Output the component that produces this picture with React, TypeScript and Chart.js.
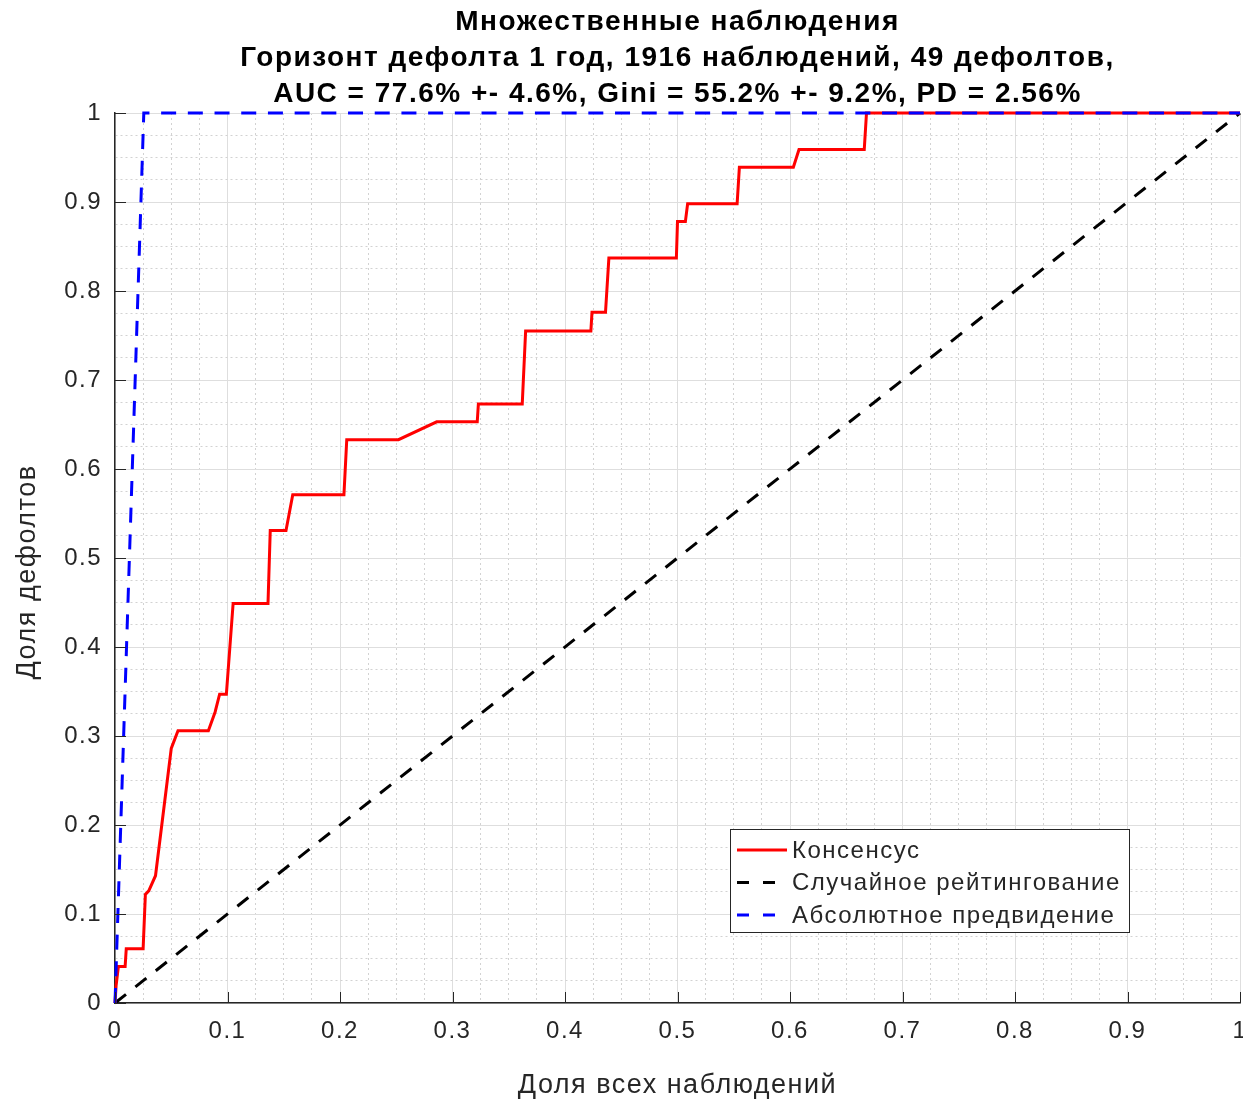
import React, { useEffect, useRef } from "react";
import { Chart, registerables } from "chart.js";

Chart.register(...registerables);

const titleLines = [
  "Множественные наблюдения",
  "Горизонт дефолта 1 год, 1916 наблюдений, 49 дефолтов,",
  "AUC = 77.6% +- 4.6%, Gini = 55.2% +- 9.2%, PD = 2.56%",
];
const xAxisTitle = "Доля всех наблюдений";
const yAxisTitle = "Доля дефолтов";
const seriesLabels = ["Консенсус", "Случайное рейтингование", "Абсолютное предвидение"];
const tickLabels = ["0", "0.1", "0.2", "0.3", "0.4", "0.5", "0.6", "0.7", "0.8", "0.9", "1"];

const consensusX = [
  0, 0.001, 0.003, 0.009, 0.010, 0.025, 0.027, 0.030, 0.036, 0.050, 0.056, 0.083, 0.089, 0.093,
  0.099, 0.105, 0.136, 0.138, 0.152, 0.158, 0.2035, 0.206, 0.252, 0.286, 0.322, 0.323, 0.362,
  0.365, 0.423, 0.424, 0.436, 0.439, 0.499, 0.500, 0.507, 0.509, 0.553, 0.555, 0.603, 0.608,
  0.666, 0.668, 1,
];
const consensusY = [
  0, 0.020, 0.041, 0.041, 0.061, 0.061, 0.122, 0.126, 0.143, 0.286, 0.306, 0.306, 0.327, 0.347,
  0.347, 0.449, 0.449, 0.531, 0.531, 0.571, 0.571, 0.633, 0.633, 0.653, 0.653, 0.673, 0.673,
  0.755, 0.755, 0.776, 0.776, 0.837, 0.837, 0.878, 0.878, 0.898, 0.898, 0.939, 0.939, 0.959,
  0.959, 1, 1,
];
const randomX = [0, 1];
const randomY = [0, 1];
const perfectX = [0, 0.0256, 1];
const perfectY = [0, 1, 1];

const FONT = "'Liberation Sans', Arial, Helvetica, sans-serif";
const AXIS_COLOR = "#262626";
const SPACING = "1.5px";

const isMajor = (v: number | undefined) =>
  v !== undefined && Math.round(v * 40) % 4 === 0;

const zip = (xs: number[], ys: number[]) => xs.map((x, i) => ({ x, y: ys[i] }));

const letterSpacing = {
  id: "letterSpacing",
  beforeDraw(chart: any) {
    (chart.ctx as any).letterSpacing = SPACING;
  },
};

const innerTicks = {
  id: "innerTicks",
  afterDraw(chart: any) {
    const { ctx, chartArea, scales } = chart;
    ctx.save();
    ctx.strokeStyle = AXIS_COLOR;
    ctx.lineWidth = 1;
    ctx.beginPath();
    for (const t of scales.x.ticks) {
      if (!isMajor(t.value)) continue;
      const px = Math.round(scales.x.getPixelForValue(t.value)) + 0.5;
      ctx.moveTo(px, chartArea.bottom);
      ctx.lineTo(px, chartArea.bottom - 11);
    }
    for (const t of scales.y.ticks) {
      if (!isMajor(t.value)) continue;
      const py = Math.round(scales.y.getPixelForValue(t.value)) + 0.5;
      ctx.moveTo(chartArea.left, py);
      ctx.lineTo(chartArea.left + 11, py);
    }
    ctx.stroke();
    ctx.restore();
  },
};

const yTitle = {
  id: "yTitle",
  afterDraw(chart: any) {
    const { ctx, chartArea } = chart;
    ctx.save();
    (ctx as any).letterSpacing = SPACING;
    ctx.font = `27px ${FONT}`;
    ctx.fillStyle = AXIS_COLOR;
    ctx.textAlign = "center";
    ctx.textBaseline = "middle";
    ctx.translate(28, (chartArea.top + chartArea.bottom) / 2 + 14);
    ctx.rotate(-Math.PI / 2);
    ctx.fillText(yAxisTitle, 0, 0);
    ctx.restore();
  },
};

const boxLegend = {
  id: "boxLegend",
  afterDraw(chart: any) {
    const { ctx } = chart;
    const x0 = 730, y0 = 829, w = 399, h = 103;
    ctx.save();
    (ctx as any).letterSpacing = SPACING;
    ctx.fillStyle = "#ffffff";
    ctx.fillRect(x0, y0, w, h);
    ctx.strokeStyle = AXIS_COLOR;
    ctx.lineWidth = 1;
    ctx.strokeRect(x0 + 0.5, y0 + 0.5, w, h);
    ctx.font = `24px ${FONT}`;
    ctx.textBaseline = "middle";
    ctx.textAlign = "left";
    chart.data.datasets.forEach((ds: any, i: number) => {
      const cy = y0 + 21 + i * 32.5;
      ctx.strokeStyle = ds.borderColor;
      ctx.lineWidth = 3;
      ctx.setLineDash(ds.borderDash && ds.borderDash.length ? [12, 14] : []);
      ctx.beginPath();
      ctx.moveTo(x0 + 7, cy);
      ctx.lineTo(x0 + 57, cy);
      ctx.stroke();
      ctx.setLineDash([]);
      ctx.fillStyle = AXIS_COLOR;
      ctx.fillText(ds.label, x0 + 62, cy + 1);
    });
    ctx.restore();
  },
};

export default function App() {
  const canvasRef = useRef<HTMLCanvasElement | null>(null);

  useEffect(() => {
    document.body.style.overflow = "hidden";
    const canvas = canvasRef.current;
    if (!canvas) return;

    const gridColor = (c: any) => (isMajor(c.tick?.value) ? "#dedede" : "#d2d2d2");
    const gridDash = (c: any) => (c.tick && !isMajor(c.tick.value) ? [2, 3] : []);
    const tickCb = (v: any) => {
      const n = Number(v);
      return isMajor(n) ? tickLabels[Math.round(n * 10)] : "";
    };

    const chart = new Chart(canvas, {
      type: "line",
      data: {
        datasets: [
          {
            label: seriesLabels[0],
            data: zip(consensusX, consensusY),
            borderColor: "#ff0000",
            borderWidth: 3,
            pointRadius: 0,
            order: 1,
            clip: 5,
          },
          {
            label: seriesLabels[1],
            data: zip(randomX, randomY),
            borderColor: "#000000",
            borderWidth: 3,
            borderDash: [14, 12],
            pointRadius: 0,
            order: 2,
            clip: 5,
          },
          {
            label: seriesLabels[2],
            data: zip(perfectX, perfectY),
            borderColor: "#0000ff",
            borderWidth: 3,
            borderDash: [15, 11.7],
            pointRadius: 0,
            order: 0,
            clip: 5,
          },
        ],
      },
      options: {
        animation: false,
        responsive: false,
        maintainAspectRatio: false,
        devicePixelRatio: 1,
        layout: { padding: { left: 0, right: 3, top: 0, bottom: 0 } },
        plugins: {
          legend: { display: false },
          tooltip: { enabled: false },
          title: {
            display: true,
            fullSize: false,
            text: titleLines,
            color: "#000000",
            font: { family: FONT, size: 28, weight: "bold", lineHeight: 36 / 28 },
            padding: { top: 4, bottom: 1 },
          },
        },
        scales: {
          x: {
            type: "linear",
            min: 0,
            max: 1,
            afterFit: (s: any) => {
              s.height = 100;
              s.paddingLeft = 0;
              s.paddingRight = 0;
            },
            ticks: {
              stepSize: 0.025,
              autoSkip: false,
              maxRotation: 0,
              minRotation: 0,
              padding: 14,
              color: AXIS_COLOR,
              font: { family: FONT, size: 24 },
              callback: tickCb,
            },
            grid: { color: gridColor, lineWidth: 1, drawTicks: false },
            border: { display: true, color: AXIS_COLOR, width: 1.5, dash: gridDash },
            title: {
              display: true,
              text: xAxisTitle,
              color: AXIS_COLOR,
              font: { family: FONT, size: 27 },
              padding: { top: 0, bottom: 1 },
            },
          },
          y: {
            type: "linear",
            min: 0,
            max: 1,
            afterFit: (s: any) => {
              s.width = 115;
            },
            ticks: {
              stepSize: 0.025,
              autoSkip: false,
              padding: 13,
              color: AXIS_COLOR,
              font: { family: FONT, size: 24 },
              callback: tickCb,
            },
            grid: { color: gridColor, lineWidth: 1, drawTicks: false },
            border: { display: true, color: AXIS_COLOR, width: 1.5, dash: gridDash },
            title: { display: false },
          },
        },
      },
      plugins: [letterSpacing, innerTicks, yTitle, boxLegend],
    } as any);

    return () => chart.destroy();
  }, []);

  return (
    <div style={{ position: "absolute", left: 0, top: 0, width: 1243, height: 1103 }}>
      <canvas ref={canvasRef} width={1243} height={1103} style={{ display: "block" }} />
    </div>
  );
}
